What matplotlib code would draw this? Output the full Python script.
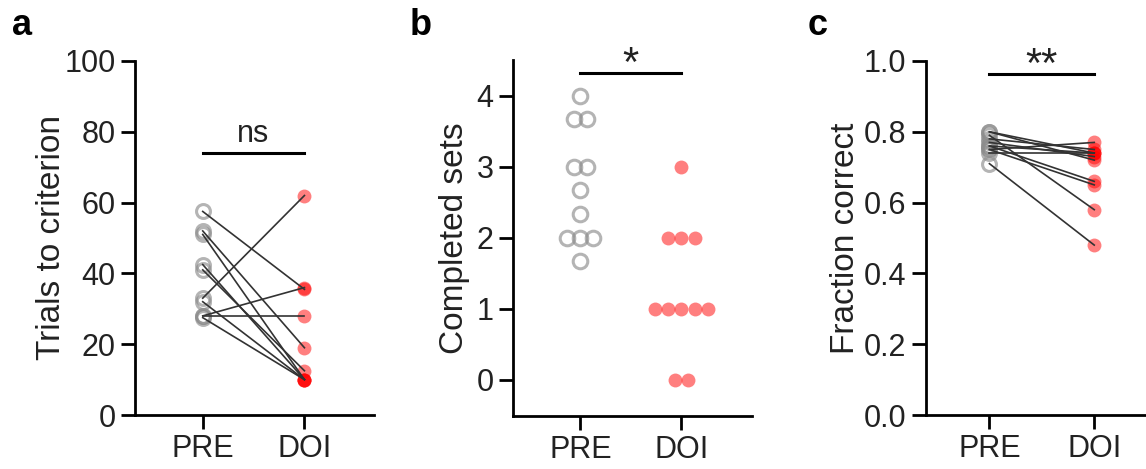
import matplotlib
matplotlib.use("Agg")
import matplotlib.pyplot as plt
import numpy as np

plt.rcParams["font.family"] = ["Liberation Sans", "DejaVu Sans"]
plt.rcParams["axes.linewidth"] = 2

# Data: a - trials to criterion (paired)
grupper = ["PRE", "DOI"]
trials_pre = [57.5, 52, 51, 42.5, 41, 33, 32, 28, 28, 27.5]
trials_doi = [35.5, 19, 10, 10, 12.5, 62, 10, 36, 28, 10]

# b - completed sets (not paired)
sets_pre = [4, 3.67, 3.67, 3, 3, 2.67, 2.33, 2, 2, 2, 1.67]
sets_doi = [3, 2, 2, 2, 1, 1, 1, 1, 1, 0, 0]

# c - fraction correct (paired)
frac_pre = [0.80, 0.80, 0.79, 0.78, 0.77, 0.76, 0.76, 0.75, 0.75, 0.74, 0.71]
frac_doi = [0.74, 0.72, 0.58, 0.75, 0.73, 0.66, 0.74, 0.77, 0.65, 0.74, 0.48]

pre_farg = "#8c8c8c"
doi_farg = "#ff0000"
text_farg = "#222222"

fig = plt.figure(figsize=(11.46, 4.69), dpi=100)
W, H = 1146, 469


def axel(left, top, bottom, width):
    return fig.add_axes([left / W, (H - bottom) / H, width / W, (bottom - top) / H])


def stil(ax):
    ax.spines["top"].set_visible(False)
    ax.spines["right"].set_visible(False)
    ax.tick_params(width=2, length=10, labelsize=22, pad=4, color="black", labelcolor=text_farg)
    ax.set_xticks([0, 1])
    ax.set_xticklabels(grupper)


def parade(ax, pre, doi):
    for p, d in zip(pre, doi):
        ax.plot([0, 1], [p, d], color="#333333", lw=1.2, zorder=3)
    ax.plot(np.zeros(len(pre)), pre, "o", ms=10, mfc="none", mec=pre_farg, mew=2.2, alpha=0.65, zorder=2)
    ax.plot(np.ones(len(doi)), doi, "o", ms=10, color=doi_farg, mew=0, alpha=0.5, zorder=2)


def sig(ax, y, text, ty, fs):
    ax.plot([0, 1], [y, y], color="black", lw=2.2, clip_on=False)
    ax.text(0.5, ty, text, ha="center", va="center", fontsize=fs, color=text_farg)


# Panel a
ax1 = axel(135, 61, 415, 239)
parade(ax1, trials_pre, trials_doi)
ax1.set_ylim(0, 100)
ax1.set_xlim(-0.666, 1.684)
ax1.set_yticks([0, 20, 40, 60, 80, 100])
stil(ax1)
ax1.set_ylabel("Trials to criterion", fontsize=24, color=text_farg)
ax1.yaxis.set_label_coords(-0.285, 0.5)
sig(ax1, 74, "ns", 79.5, 22)

# Panel b - swarm
ax2 = axel(513, 60, 415.5, 238.5)
dx = 0.13
for xc, vals, isPre in [(0, sets_pre, True), (1, sets_doi, False)]:
    xs, ys = [], []
    for v in sorted(set(vals), reverse=True):
        n = vals.count(v)
        off = (np.arange(n) - (n - 1) / 2) * dx
        xs += list(xc + off)
        ys += [v] * n
    if isPre:
        ax2.plot(xs, ys, "o", ms=10.5, mfc="none", mec=pre_farg, mew=2.2, alpha=0.65)
    else:
        ax2.plot(xs, ys, "o", ms=10, color=doi_farg, mew=0, alpha=0.5)
ax2.set_ylim(-0.5, 4.5)
ax2.set_xlim(-0.666, 1.693)
ax2.set_yticks([0, 1, 2, 3, 4])
stil(ax2)
ax2.set_ylabel("Completed sets", fontsize=24, color=text_farg)
ax2.yaxis.set_label_coords(-0.18, 0.5)
sig(ax2, 4.32, "*", 4.43, 30)

# Panel c
ax3 = axel(925.5, 61, 415, 240)
parade(ax3, frac_pre, frac_doi)
ax3.set_ylim(0, 1.0)
ax3.set_xlim(-0.61, 1.68)
ax3.set_yticks([0, 0.2, 0.4, 0.6, 0.8, 1.0])
ax3.set_yticklabels(["0.0", "0.2", "0.4", "0.6", "0.8", "1.0"])
stil(ax3)
ax3.set_ylabel("Fraction correct", fontsize=24, color=text_farg)
ax3.yaxis.set_label_coords(-0.27, 0.5)
sig(ax3, 0.963, "**", 0.987, 30)

# Panel letters
for x, bokstav in [(12, "a"), (410, "b"), (808, "c")]:
    fig.text(x / W, 1 - 8 / H, bokstav, fontsize=26, fontweight="bold", va="top", ha="left")

fig.savefig("out.png", dpi=100)
